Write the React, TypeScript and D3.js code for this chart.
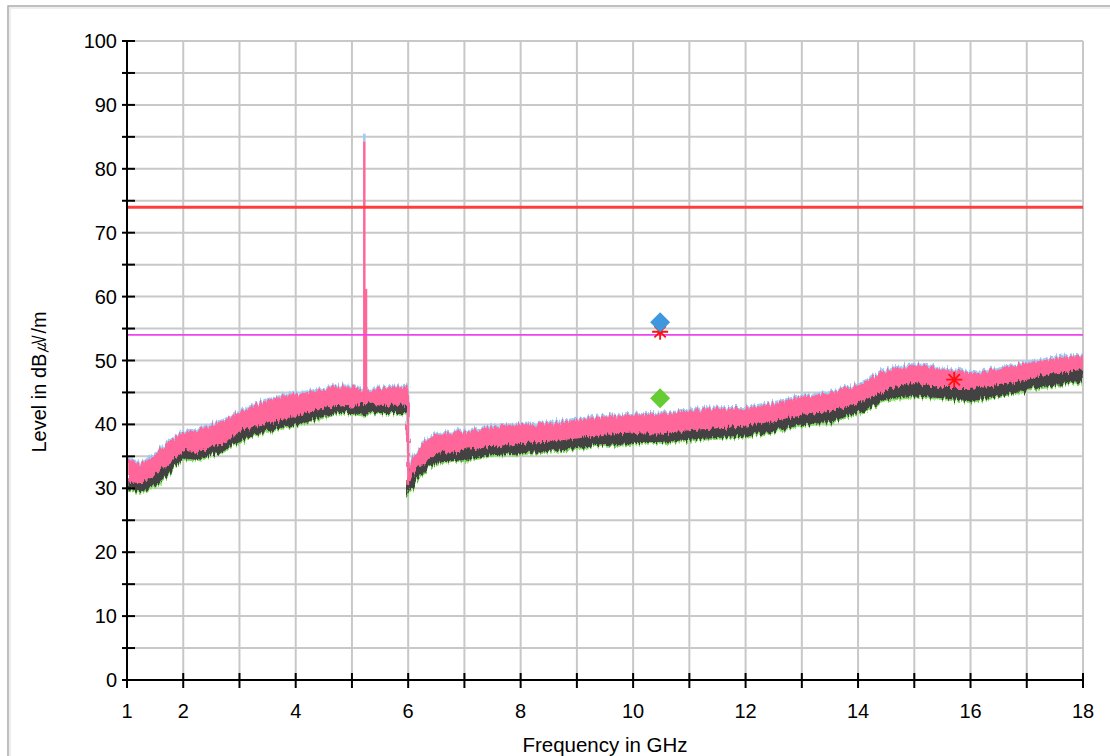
import React from "react";
import * as d3 from "d3";

const freqs = [1, 1.25, 1.5, 1.75, 2, 2.25, 2.5, 2.75, 3, 3.25, 3.5, 3.75, 4, 4.25, 4.5, 4.75, 5, 5.2, 5.5, 5.75, 5.99, 6.0, 6.1, 6.25, 6.5, 7, 7.5, 8, 8.5, 9, 9.5, 10, 10.5, 11, 11.5, 12, 12.5, 13, 13.5, 14, 14.5, 15, 15.5, 16, 16.5, 17, 17.5, 18];
const peakTop = [34.5, 33.7, 35, 37.2, 38.7, 39, 39.8, 40.6, 41.9, 42.9, 43.7, 44.2, 44.7, 45, 45.3, 45.8, 45.8, 45.2, 45.5, 45.6, 45.8, 33, 35, 36.9, 38.4, 38.8, 39.5, 39.8, 40.1, 40.6, 41.1, 41.4, 41.6, 41.9, 42.4, 42.5, 43.2, 44.2, 44.8, 46, 48.4, 49.2, 48.7, 47.9, 48.4, 49.5, 50.2, 50.7];
const avgTop = [31.1, 30.9, 32.2, 34, 36.1, 35.6, 36.6, 37.4, 38.9, 39.8, 40.3, 40.8, 41.3, 42.1, 42.6, 43.2, 42.9, 43.5, 43.2, 43.2, 43.2, 30.9, 32.5, 34, 35.5, 36.1, 36.6, 37.2, 37.4, 37.9, 38.5, 38.7, 38.7, 39.2, 39.5, 39.8, 40.6, 41.6, 42.1, 43.5, 45.5, 46.6, 45.8, 45.8, 46.3, 47.1, 48.1, 48.7];
const avgBottom = [29.8, 29.7, 30.6, 32.4, 34.8, 34.5, 35.3, 36.1, 37.4, 38.5, 39, 39.5, 40, 40.6, 41.3, 41.9, 41.9, 41.6, 41.9, 41.9, 41.9, 29.3, 30.9, 32.5, 34.1, 34.5, 35.3, 35.6, 35.8, 36.4, 36.9, 37.2, 37.2, 37.7, 38, 38.2, 39, 40, 40.5, 41.9, 44, 44.5, 44.2, 43.7, 44.5, 45.5, 46.3, 46.8];

const spikeFreqs = [5.22, 5.25];
const spikePeaks = [84.3, 61.2];
const spikeBlueTip = 85.5;
const stepFreq = 6.0;
const stepHigh = 44.5;
const stepLow = 30.5;

const limitPeak = 74;
const limitAvg = 54;

const markerPeakFreq = [10.48];
const markerPeakLevel = [56];
const markerAvgFreq = [10.48];
const markerAvgLevel = [44.1];
const starFreqs = [10.48, 15.71];
const starLevels = [54.5, 47.0];

const xTickLabels = [1, 2, 4, 6, 8, 10, 12, 14, 16, 18];
const yTickLabels = [0, 10, 20, 30, 40, 50, 60, 70, 80, 90, 100];

const W = 1110, H = 756;
const L = 127, R = 1083, T = 41, B = 680;
const FONT = "'Liberation Sans', Arial, sans-serif";

export default function App() {
  const x = d3.scaleLinear().domain([1, 18]).range([L, R]);
  const y = d3.scaleLinear().domain([0, 100]).range([B, T]);
  const idx = d3.range(freqs.length);

  const pinkArea = d3.area<number>().x(i => x(freqs[i])).y0(i => y(avgTop[i])).y1(i => y(peakTop[i]))(idx) || "";
  const darkArea = d3.area<number>().x(i => x(freqs[i])).y0(i => y(avgBottom[i])).y1(i => y(avgTop[i]))(idx) || "";
  const blueLine = d3.line<number>().x(i => x(freqs[i])).y(i => y(peakTop[i]))(idx) || "";
  const greenLine = d3.line<number>().x(i => x(freqs[i])).y(i => y(avgBottom[i]))(idx) || "";

  const vGrid = d3.range(2, 19);
  const hGrid = d3.range(5, 101, 5);
  const xTicks = d3.range(1, 19);

  const diamond = (cx: number, cy: number, r: number) => `M${cx},${cy - r}L${cx + r},${cy}L${cx},${cy + r}L${cx - r},${cy}Z`;
  const star = (cx: number, cy: number, r: number) => {
    let p = "";
    for (let k = 0; k < 4; k++) {
      const a = (k * Math.PI) / 4;
      p += `M${cx - r * Math.cos(a)},${cy - r * Math.sin(a)}L${cx + r * Math.cos(a)},${cy + r * Math.sin(a)}`;
    }
    return p;
  };

  return (
    <svg width={W} height={H} style={{ position: "absolute", left: 0, top: 0, background: "#fff" }} fontFamily={FONT}>
      <defs>
        <filter id="jag" filterUnits="userSpaceOnUse" x={0} y={0} width={W} height={H}>
          <feTurbulence type="fractalNoise" baseFrequency="0.5 0.05" numOctaves={2} seed={3} result="n" />
          <feDisplacementMap in="SourceGraphic" in2="n" scale={10} xChannelSelector="R" yChannelSelector="G" />
        </filter>
        <clipPath id="plotClip">
          <rect x={L} y={T} width={R - L} height={B - T} />
        </clipPath>
      </defs>
      <rect x={8} y={6} width={W} height={H} fill="#fff" stroke="#ababab" strokeWidth={1.5} />
      <rect x={10} y={8} width={W} height={H} fill="none" stroke="#eeeeee" strokeWidth={2} />

      {/* grid */}
      {vGrid.map(v => (
        <line key={"v" + v} x1={x(v)} x2={x(v)} y1={T} y2={B} stroke="#c8c8c8" strokeWidth={2} />
      ))}
      {hGrid.map(v => (
        <line key={"h" + v} x1={L} x2={R} y1={y(v)} y2={y(v)} stroke="#c8c8c8" strokeWidth={2} />
      ))}

      {/* traces */}
      <g clipPath="url(#plotClip)">
        <g filter="url(#jag)">
          <path d={greenLine} fill="none" stroke="#7ee05a" strokeWidth={2} transform="translate(0,1.5)" />
          <path d={darkArea} fill="#434343" stroke="#434343" strokeWidth={1.5} />
          <path d={blueLine} fill="none" stroke="#9ccbf5" strokeWidth={2.5} transform="translate(0,-1.5)" />
          <path d={pinkArea} fill="#ff6699" stroke="#ff6699" strokeWidth={1.5} />
        </g>
      </g>
      <line x1={x(stepFreq)} x2={x(stepFreq)} y1={y(stepHigh)} y2={y(stepLow)} stroke="#ff6699" strokeWidth={2} />
      {spikeFreqs.map((f, i) => (
        <line key={"s" + i} x1={x(f)} x2={x(f)} y1={y(avgTop[17])} y2={y(spikePeaks[i])} stroke="#ff6699" strokeWidth={2.5} />
      ))}
      <line x1={x(spikeFreqs[0])} x2={x(spikeFreqs[0])} y1={y(spikePeaks[0])} y2={y(spikeBlueTip)} stroke="#9ccbf5" strokeWidth={2.5} />

      {/* limit lines */}
      <line x1={L} x2={R} y1={y(limitPeak)} y2={y(limitPeak)} stroke="#ff3d3d" strokeWidth={3} />
      <line x1={L} x2={R} y1={y(limitAvg)} y2={y(limitAvg)} stroke="#ee44ee" strokeWidth={1.8} />

      {/* markers */}
      {starFreqs.map((f, i) => (
        <path key={"st" + i} d={star(x(f), y(starLevels[i]), 8)} stroke="#ff1010" strokeWidth={1.8} fill="none" />
      ))}
      {markerPeakFreq.map((f, i) => (
        <path key={"mp" + i} d={diamond(x(f), y(markerPeakLevel[i]), 10)} fill="#3f98dd" />
      ))}
      {markerAvgFreq.map((f, i) => (
        <path key={"ma" + i} d={diamond(x(f), y(markerAvgLevel[i]), 10)} fill="#66cc33" />
      ))}

      {/* axes */}
      <line x1={L} x2={L} y1={T} y2={B} stroke="#000" strokeWidth={2} />
      <line x1={L} x2={R} y1={B} y2={B} stroke="#000" strokeWidth={2} />
      {hGrid.concat([0]).map(v => (
        <line key={"yt" + v} x1={L - 5} x2={L + 8} y1={y(v)} y2={y(v)} stroke="#000" strokeWidth={2} />
      ))}
      {xTicks.map(v => (
        <line key={"xt" + v} x1={x(v)} x2={x(v)} y1={B - 7} y2={B + 8} stroke="#000" strokeWidth={2} />
      ))}
      {yTickLabels.map(v => (
        <text key={"yl" + v} x={L - 10} y={y(v) + 7} textAnchor="end" fontSize={20} fill="#000">{v}</text>
      ))}
      {xTickLabels.map(v => (
        <text key={"xl" + v} x={x(v)} y={718} textAnchor="middle" fontSize={20} fill="#000">{v}</text>
      ))}
      <text x={605} y={752} textAnchor="middle" fontSize={20.5} fill="#000">Frequency in GHz</text>
      <text transform="translate(46,382) rotate(-90)" textAnchor="middle" fontSize={20} fill="#000">Level in dB㎶/m</text>
    </svg>
  );
}
